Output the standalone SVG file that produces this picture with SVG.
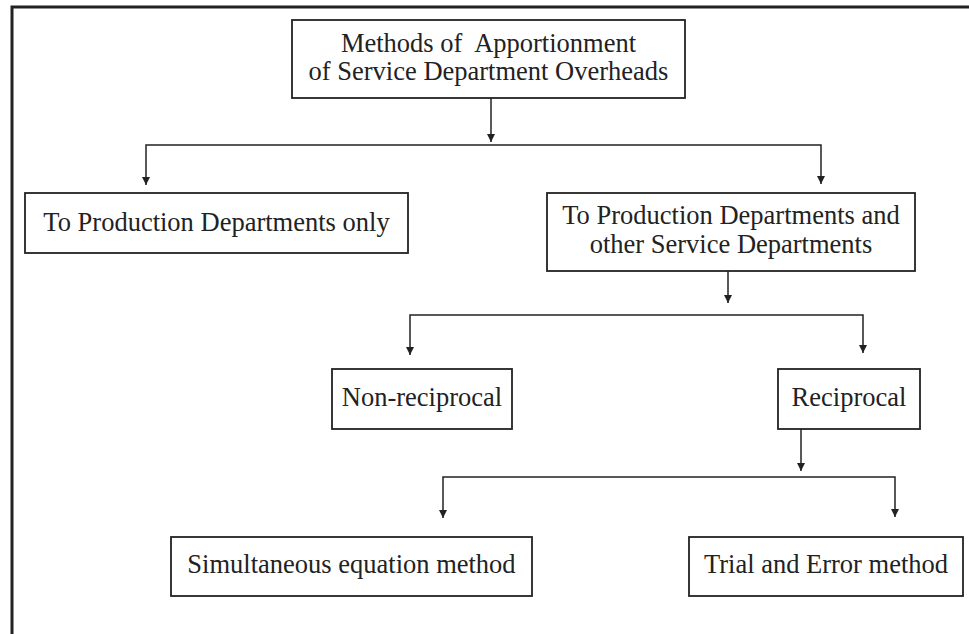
<svg xmlns="http://www.w3.org/2000/svg" width="969" height="634" viewBox="0 0 969 634">
<style>
.box{fill:#fff;stroke:#222;stroke-width:1.8}
.t{font-family:"Liberation Serif","Times New Roman",serif;font-size:26.5px;fill:#222;text-anchor:middle}
.c{fill:none;stroke:#222;stroke-width:1.5}
</style>
<defs>
<marker id="ah" viewBox="0 0 8 8" refX="8" refY="4" markerWidth="8" markerHeight="8" markerUnits="userSpaceOnUse" orient="auto">
<path d="M0,0 L8,4 L0,8 z" fill="#222"/>
</marker>
</defs>
<rect width="969" height="634" fill="#fff"/>
<path d="M12,634 V7 H969" fill="none" stroke="#222" stroke-width="3"/>
<g id="connectors">
<path class="c" d="M491,98 V142" marker-end="url(#ah)"/>
<path class="c" d="M491,145 H146 V185" marker-end="url(#ah)"/>
<path class="c" d="M491,145 H821 V184" marker-end="url(#ah)"/>
<path class="c" d="M728,271 V303" marker-end="url(#ah)"/>
<path class="c" d="M600,315 H410 V355" marker-end="url(#ah)"/>
<path class="c" d="M600,315 H863 V353" marker-end="url(#ah)"/>
<path class="c" d="M801,429 V471" marker-end="url(#ah)"/>
<path class="c" d="M801,477 H443 V518" marker-end="url(#ah)"/>
<path class="c" d="M801,477 H895 V517" marker-end="url(#ah)"/>
</g>
<g id="root">
<rect class="box" x="292" y="20" width="393" height="78"/>
<text class="t" x="488.5" y="52" style="white-space:pre">Methods of  Apportionment</text>
<text class="t" x="488.5" y="80">of Service Department Overheads</text>
</g>
<g id="prod-only">
<rect class="box" x="25" y="193" width="383" height="60"/>
<text class="t" x="216.5" y="231">To Production Departments only</text>
</g>
<g id="prod-and-service">
<rect class="box" x="547" y="193" width="368" height="78"/>
<text class="t" x="731" y="224">To Production Departments and</text>
<text class="t" x="731" y="253">other Service Departments</text>
</g>
<g id="non-reciprocal">
<rect class="box" x="332" y="369" width="180" height="60"/>
<text class="t" x="422" y="406">Non-reciprocal</text>
</g>
<g id="reciprocal">
<rect class="box" x="778" y="369" width="142" height="60"/>
<text class="t" x="849" y="406">Reciprocal</text>
</g>
<g id="simultaneous">
<rect class="box" x="171" y="537" width="361" height="59"/>
<text class="t" x="351.5" y="573">Simultaneous equation method</text>
</g>
<g id="trial-error">
<rect class="box" x="689" y="537" width="274" height="59"/>
<text class="t" x="826" y="573">Trial and Error method</text>
</g>
</svg>
